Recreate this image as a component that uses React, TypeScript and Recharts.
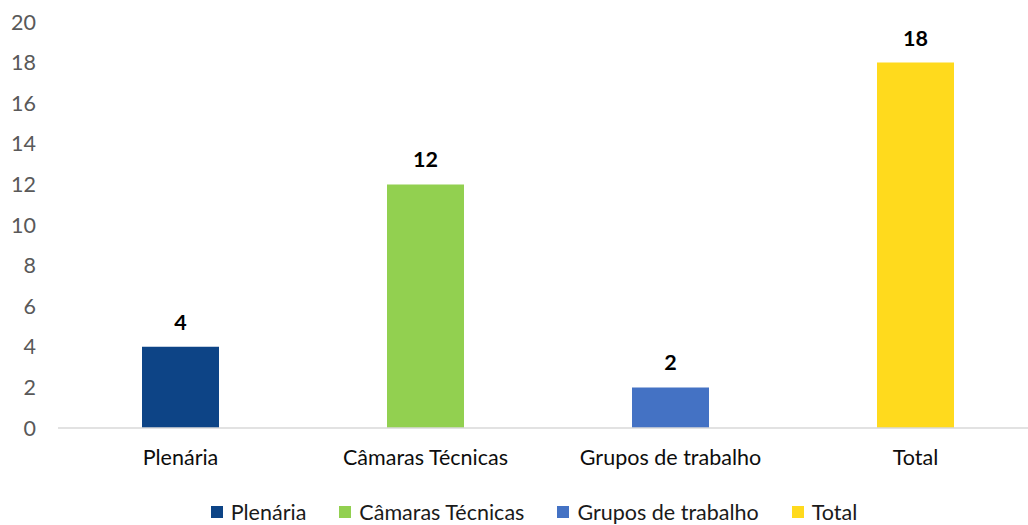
import { BarChart, Bar, XAxis, YAxis, Cell, LabelList, Legend } from "recharts";

const categories = ["Plenária", "Câmaras Técnicas", "Grupos de trabalho", "Total"];
const values = [4, 12, 2, 18];
const colors = ["#0D4486", "#92D050", "#4472C4", "#FFDA1D"];
const yTicks = [0, 2, 4, 6, 8, 10, 12, 14, 16, 18, 20];

const data = categories.map((name, i) => ({ name, value: values[i] }));

const FONT = "Lato, 'Open Sans', sans-serif";
const FS = 21.5;

// legenda manual, quadrado + texto
function LegendBox() {
  return (
    <div
      style={{
        display: "flex",
        justifyContent: "center",
        gap: 33,
        fontFamily: FONT,
        fontSize: FS,
        lineHeight: "28px",
        height: 28,
        color: "#1a1a1a",
        paddingLeft: 30,
      }}
    >
      {categories.map((c, i) => (
        <div key={c} style={{ display: "flex", alignItems: "center" }}>
          <span
            style={{
              display: "inline-block",
              width: 12,
              height: 12,
              background: colors[i],
              marginRight: 8,
            }}
          />
          <span>{c}</span>
        </div>
      ))}
    </div>
  );
}

export default function App() {
  return (
    <div
      style={{
        position: "absolute",
        left: 0,
        top: 0,
        width: 1028,
        height: 525,
        overflow: "hidden",
        background: "#fff",
      }}
    >
      <BarChart
        width={1040}
        height={525}
        data={data}
        margin={{ top: 22, right: 2, left: 0, bottom: 4 }}
      >
        <XAxis
          dataKey="name"
          tickLine={false}
          axisLine={{ stroke: "#D9D9D9", strokeWidth: 1.5 }}
          tick={{ fill: "#0D0D0D", fontSize: FS, fontFamily: FONT }}
          tickMargin={16}
          height={54}
          interval={0}
        />
        <YAxis
          domain={[0, 20]}
          ticks={yTicks}
          width={58}
          tickLine={false}
          axisLine={false}
          tick={{ fill: "#595959", fontSize: FS, fontFamily: FONT }}
          tickMargin={16}
        />
        <Legend
          verticalAlign="bottom"
          height={39}
          wrapperStyle={{ top: 498, bottom: "auto" }}
          content={() => <LegendBox />}
        />
        <Bar dataKey="value" barSize={77} isAnimationActive={false}>
          {data.map((d, i) => (
            <Cell key={d.name} fill={colors[i]} />
          ))}
          <LabelList
            dataKey="value"
            position="top"
            offset={17}
            style={{ fill: "#000", fontSize: FS, fontWeight: 700, fontFamily: FONT }}
          />
        </Bar>
      </BarChart>
    </div>
  );
}
